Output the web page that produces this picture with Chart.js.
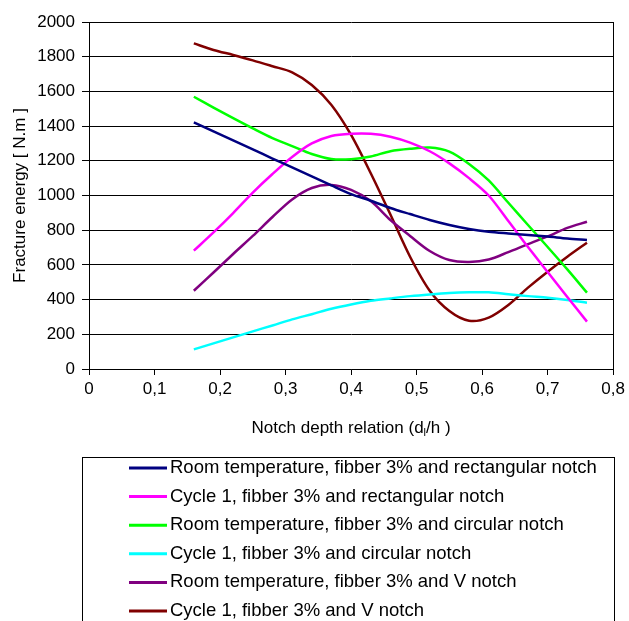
<!DOCTYPE html>
<html>
<head>
<meta charset="utf-8">
<script src="https://cdn.jsdelivr.net/npm/chart.js@4.4.0/dist/chart.umd.min.js"></script>
<style>
    html, body { margin: 0; padding: 0; background: #fff; }
    #chart-energy { display: block; }
</style>
</head>
<body>
<canvas id="chart-energy" width="629" height="621"></canvas>
<script>
// notch depth relation d/h
const depthRatio = [0.16, 0.19, 0.22, 0.25, 0.28, 0.31, 0.34, 0.37, 0.40, 0.43, 0.46,
    0.49, 0.52, 0.55, 0.58, 0.61, 0.64, 0.67, 0.70, 0.73, 0.76];

// fracture energy [N.m]
const roomRect = [1422, 1370, 1318, 1266, 1213, 1162, 1110, 1058, 1008, 970, 928,
    893, 859, 830, 807, 791, 781, 772, 763, 752, 744];
const cycleRect = [682, 787, 899, 1017, 1124, 1222, 1300, 1343, 1356, 1356, 1339,
    1305, 1255, 1185, 1100, 1000, 853, 703, 559, 415, 273];
const roomCirc = [1569, 1507, 1446, 1387, 1331, 1285, 1239, 1210, 1209, 1225, 1255,
    1269, 1276, 1253, 1182, 1087, 958, 830, 703, 574, 440];
const cycleCirc = [113, 148, 182, 217, 251, 286, 316, 347, 372, 393, 407,
    420, 430, 438, 442, 442, 431, 420, 411, 398, 382];
const roomV = [451, 556, 663, 767, 876, 977, 1043, 1061, 1032, 968, 859,
    767, 680, 628, 617, 631, 674, 720, 764, 813, 849];
const cycleV = [1877, 1839, 1810, 1779, 1745, 1710, 1637, 1522, 1349, 1128, 890,
    647, 451, 334, 278, 296, 369, 469, 561, 647, 728];

const seriesLabels = [
    "Room temperature, fibber 3% and rectangular notch",
    "Cycle 1, fibber 3% and rectangular notch",
    "Room temperature, fibber 3% and circular notch",
    "Cycle 1, fibber 3% and circular notch",
    "Room temperature, fibber 3% and V notch",
    "Cycle 1, fibber 3% and V notch"
];
const seriesColors = ["#000080", "#ff00ff", "#00ff00", "#00ffff", "#800080", "#800000"];
const seriesValues = [roomRect, cycleRect, roomCirc, cycleCirc, roomV, cycleV];

const FONT = "'Liberation Sans', Arial, sans-serif";

const datasets = seriesValues.map(function (values, i) {
    return {
        label: seriesLabels[i],
        data: depthRatio.map((x, j) => ({ x: x, y: values[j] })),
        borderColor: seriesColors[i],
        backgroundColor: seriesColors[i],
        borderWidth: 2.5,
        pointRadius: 0,
        tension: 0.3,
        fill: false
    };
});

// titles, right frame edge and the boxed legend
const decorations = {
    id: "decorations",
    afterDraw(chart) {
        const ctx = chart.ctx;
        const area = chart.chartArea;
        ctx.save();

        ctx.strokeStyle = "#000";
        ctx.lineWidth = 1;
        ctx.beginPath();
        ctx.moveTo(Math.round(area.right) + 0.5, area.top);
        ctx.lineTo(Math.round(area.right) + 0.5, area.bottom);
        ctx.stroke();

        ctx.fillStyle = "#000";
        ctx.textBaseline = "middle";

        // x title with subscript
        const cx = (area.left + area.right) / 2;
        const ty = 428;
        const partA = "Notch depth relation (d";
        const partSub = "l";
        const partB = "/h )";
        ctx.font = "17px " + FONT;
        const wA = ctx.measureText(partA).width;
        const wB = ctx.measureText(partB).width;
        ctx.font = "11px " + FONT;
        const wS = ctx.measureText(partSub).width;
        let x0 = cx - (wA + wS + wB) / 2;
        ctx.textAlign = "left";
        ctx.font = "17px " + FONT;
        ctx.fillText(partA, x0, ty);
        ctx.font = "11px " + FONT;
        ctx.fillText(partSub, x0 + wA, ty + 5);
        ctx.font = "17px " + FONT;
        ctx.fillText(partB, x0 + wA + wS, ty);

        // y title
        ctx.save();
        ctx.translate(20, (area.top + area.bottom) / 2);
        ctx.rotate(-Math.PI / 2);
        ctx.textAlign = "center";
        ctx.fillText("Fracture energy [ N.m ]", 0, 0);
        ctx.restore();

        // legend
        ctx.strokeRect(82.5, 457.5, 532, 200);
        chart.data.datasets.forEach(function (ds, i) {
            const y = 468 + i * 28.6;
            ctx.strokeStyle = ds.borderColor;
            ctx.lineWidth = 3;
            ctx.beginPath();
            ctx.moveTo(129, y);
            ctx.lineTo(167, y);
            ctx.stroke();
            ctx.fillStyle = "#000";
            ctx.textAlign = "left";
            ctx.font = "18.5px " + FONT;
            ctx.fillText(ds.label, 170, y);
        });

        ctx.restore();
    }
};

new Chart(document.getElementById("chart-energy"), {
    type: "line",
    data: { datasets: datasets },
    options: {
        responsive: false,
        animation: false,
        layout: { padding: { top: 22, right: 12, left: 0, bottom: 0 } },
        plugins: {
            legend: { display: false },
            tooltip: { enabled: false }
        },
        scales: {
            x: {
                type: "linear",
                min: 0,
                max: 0.8,
                afterFit: function (scale) { scale.height = 252; },
                ticks: {
                    stepSize: 0.1,
                    color: "#000",
                    padding: 4,
                    maxRotation: 0,
                    font: { family: FONT, size: 17 },
                    callback: value => value === 0 ? "0" : value.toFixed(1).replace(".", ",")
                },
                grid: { drawOnChartArea: false, drawTicks: true, tickLength: 6, color: "#000" },
                border: { color: "#000", width: 1 }
            },
            y: {
                min: 0,
                max: 2000,
                afterFit: function (scale) { scale.width = 89; },
                ticks: {
                    stepSize: 200,
                    color: "#000",
                    padding: 7,
                    font: { family: FONT, size: 17 },
                    callback: value => String(value)
                },
                grid: { color: "#000", tickLength: 7 },
                border: { color: "#000", width: 1 }
            }
        }
    },
    plugins: [decorations]
});
</script>
</body>
</html>
